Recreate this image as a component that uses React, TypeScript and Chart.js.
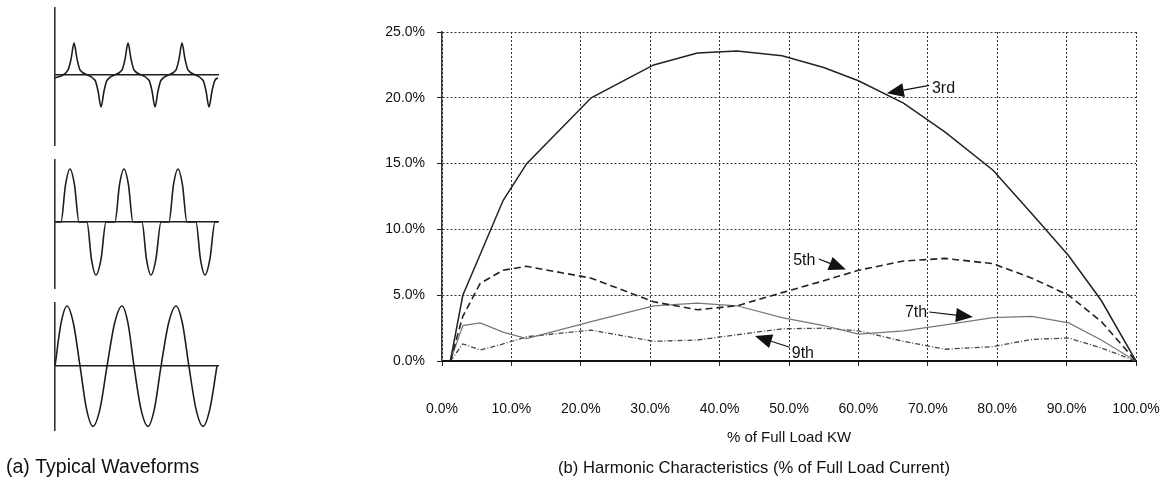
import React, { useEffect, useRef } from 'react';
import { Chart, registerables } from 'chart.js';

Chart.register(...registerables);

const FONT = "'Liberation Sans', Arial, Helvetica, sans-serif";

// ---------- Panel (b): harmonic characteristics ----------
const loadPct = [1.2, 3, 5.5, 8.8, 12.2, 21.5, 30.5, 36.8, 42.5, 49, 55, 60, 66.5, 72.5, 79.4, 85, 90.3, 95, 100];
const third = [0, 5.0, 8.1, 12.2, 15.0, 20.0, 22.5, 23.4, 23.55, 23.2, 22.3, 21.3, 19.6, 17.4, 14.5, 11.2, 8.0, 4.6, 0];
const fifth = [0, 3.4, 5.9, 6.9, 7.2, 6.3, 4.5, 3.9, 4.2, 5.2, 6.1, 6.9, 7.6, 7.8, 7.4, 6.3, 5.0, 3.0, 0];
const seventh = [0, 2.7, 2.9, 2.2, 1.7, 3.0, 4.2, 4.4, 4.2, 3.3, 2.7, 2.05, 2.3, 2.75, 3.3, 3.4, 2.9, 1.6, 0];
const ninth = [0, 1.3, 0.85, 1.3, 1.85, 2.35, 1.5, 1.6, 2.0, 2.45, 2.5, 2.3, 1.5, 0.9, 1.1, 1.65, 1.75, 1.0, 0];
const harmonicNames = ['3rd', '5th', '7th', '9th'];
const xTickLabels = ['0.0%', '10.0%', '20.0%', '30.0%', '40.0%', '50.0%', '60.0%', '70.0%', '80.0%', '90.0%', '100.0%'];
const yTickLabels = ['0.0%', '5.0%', '10.0%', '15.0%', '20.0%', '25.0%'];
const xAxisTitle = '% of Full Load KW';
const captionB = '(b) Harmonic Characteristics (% of Full Load Current)';
const captionA = '(a) Typical Waveforms';

// callout arrows (data coordinates): arrow tip, arrow tail, label anchor (left, middle)
const calloutTips = [[64.1, 20.35], [58.2, 6.95], [76.5, 3.35], [45.1, 1.9]];
const calloutTails = [[70.2, 20.95], [54.3, 7.75], [70.2, 3.73], [50.1, 1.05]];
const calloutLabels = [[70.6, 20.7], [50.6, 7.62], [66.7, 3.66], [50.4, 0.6]];

// ---------- Panel (a): typical waveforms (x in electrical degrees, y in relative amplitude) ----------
const wave1Deg = [0, 87, 107, 127, 147, 167, 267, 287, 307, 327, 347, 447, 467, 487, 507, 527, 627, 647, 667, 687, 707, 807, 827, 847, 867, 887, 987, 1007, 1027, 1047, 1067, 1087];
const wave1Val = [-0.09, 0.16, 0.5, 1, 0.5, 0.16, -0.16, -0.5, -1, -0.5, -0.16, 0.16, 0.5, 1, 0.5, 0.16, -0.16, -0.5, -1, -0.5, -0.16, 0.16, 0.5, 1, 0.5, 0.16, -0.16, -0.5, -1, -0.5, -0.16, -0.09];
const wave2Deg = [0, 40, 70, 100, 130, 160, 213, 243, 273, 307, 340, 400, 430, 460, 490, 520, 580, 610, 640, 673, 707, 760, 790, 820, 850, 880, 940, 970, 1000, 1033, 1067, 1087];
const wave2Val = [0, 0, 0.7, 1, 0.7, 0, 0, -0.7, -1, -0.7, 0, 0, 0.7, 1, 0.7, 0, 0, -0.7, -1, -0.7, 0, 0, 0.7, 1, 0.7, 0, 0, -0.7, -1, -0.7, 0, 0];
const wave3Deg = [0, 40, 80, 123, 167, 210, 253, 300, 347, 397, 447, 487, 527, 573, 620, 663, 707, 757, 807, 850, 893, 940, 987, 1033, 1080];
const wave3Val = [0, 0.71, 1, 0.71, 0, -0.71, -1, -0.71, 0, 0.71, 1, 0.71, 0, -0.71, -1, -0.71, 0, 0.71, 1, 0.71, 0, -0.71, -1, -0.71, 0];

const toPoints = (xs: number[], ys: number[]) => xs.map((x, i) => ({ x, y: ys[i] }));

const calloutPlugin = {
  id: 'callouts',
  afterDatasetsDraw(chart: any) {
    const { ctx, scales } = chart;
    const sx = scales.x;
    const sy = scales.y;
    ctx.save();
    harmonicNames.forEach((name, i) => {
      const tx = sx.getPixelForValue(calloutTips[i][0]);
      const ty = sy.getPixelForValue(calloutTips[i][1]);
      const ax = sx.getPixelForValue(calloutTails[i][0]);
      const ay = sy.getPixelForValue(calloutTails[i][1]);
      const ang = Math.atan2(ty - ay, tx - ax);
      const len = 17;
      const half = 7;
      const bx = tx - len * Math.cos(ang);
      const by = ty - len * Math.sin(ang);
      ctx.strokeStyle = '#111';
      ctx.fillStyle = '#111';
      ctx.lineWidth = 1.2;
      ctx.setLineDash([]);
      ctx.beginPath();
      ctx.moveTo(ax, ay);
      ctx.lineTo(bx, by);
      ctx.stroke();
      ctx.beginPath();
      ctx.moveTo(tx, ty);
      ctx.lineTo(bx + half * Math.sin(ang), by - half * Math.cos(ang));
      ctx.lineTo(bx - half * Math.sin(ang), by + half * Math.cos(ang));
      ctx.closePath();
      ctx.fill();
      ctx.font = `16px ${FONT}`;
      ctx.textAlign = 'left';
      ctx.textBaseline = 'middle';
      ctx.fillText(name, sx.getPixelForValue(calloutLabels[i][0]), sy.getPixelForValue(calloutLabels[i][1]));
    });
    ctx.restore();
  },
};

function makeWave(canvas: HTMLCanvasElement, xs: number[], ys: number[], yMin: number, yMax: number, padTop: number, padBottom: number, caption?: string) {
  return new Chart(canvas, {
    type: 'scatter',
    data: {
      datasets: [
        {
          data: toPoints(xs, ys),
          showLine: true,
          borderColor: '#1e1e1e',
          borderWidth: 1.6,
          pointRadius: 0,
          cubicInterpolationMode: 'monotone',
        } as any,
      ],
    },
    options: {
      animation: false,
      responsive: false,
      devicePixelRatio: 1,
      layout: { padding: { left: 6, right: 122, top: padTop, bottom: padBottom } },
      plugins: {
        legend: { display: false },
        tooltip: { enabled: false },
        title: caption
          ? {
              display: true,
              text: caption,
              position: 'bottom',
              align: 'start',
              color: '#111',
              font: { family: FONT, size: 19.5, weight: 'normal' },
              padding: { top: 25, bottom: 6 },
            }
          : { display: false },
      },
      scales: {
        x: {
          type: 'linear',
          min: 0,
          max: 1087,
          position: { y: 0 } as any,
          ticks: { display: false },
          grid: { display: false },
          border: { display: true, color: '#1e1e1e', width: 1.6 },
          afterFit: (s: any) => { s.height = 0; },
        },
        y: {
          type: 'linear',
          min: yMin,
          max: yMax,
          ticks: { display: false },
          grid: { display: false },
          border: { display: true, color: '#333', width: 1.6 },
          afterFit: (s: any) => { s.width = 49; },
        },
      },
    } as any,
  });
}

export default function App() {
  const w1 = useRef<HTMLCanvasElement>(null);
  const w2 = useRef<HTMLCanvasElement>(null);
  const w3 = useRef<HTMLCanvasElement>(null);
  const main = useRef<HTMLCanvasElement>(null);

  useEffect(() => {
    const charts: Chart[] = [];
    charts.push(makeWave(w1.current!, wave1Deg, wave1Val, -2.19, 2.1, 8, 5));
    charts.push(makeWave(w2.current!, wave2Deg, wave2Val, -1.245, 1.17, 10, 7));
    charts.push(makeWave(w3.current!, wave3Deg, wave3Val, -1.07, 1.05, 8, 0, captionA));

    const tickFont = { family: FONT, size: 14 };
    charts.push(
      new Chart(main.current!, {
        type: 'scatter',
        data: {
          datasets: [
            { label: harmonicNames[0], data: toPoints(loadPct, third), showLine: true, borderColor: '#222', borderWidth: 1.5, pointRadius: 0, tension: 0 },
            { label: harmonicNames[1], data: toPoints(loadPct, fifth), showLine: true, borderColor: '#222', borderWidth: 1.6, borderDash: [7, 4], pointRadius: 0, tension: 0 },
            { label: harmonicNames[2], data: toPoints(loadPct, seventh), showLine: true, borderColor: '#777', borderWidth: 1.2, pointRadius: 0, tension: 0 },
            { label: harmonicNames[3], data: toPoints(loadPct, ninth), showLine: true, borderColor: '#444', borderWidth: 1.3, borderDash: [5, 2, 1, 2], pointRadius: 0, tension: 0 },
          ],
        },
        options: {
          animation: false,
          responsive: false,
          devicePixelRatio: 1,
          layout: { padding: { left: 0, right: 32, top: 32, bottom: 0 } },
          plugins: {
            legend: { display: false },
            tooltip: { enabled: false },
            title: {
              display: true,
              text: captionB,
              position: 'bottom',
              color: '#111',
              font: { family: FONT, size: 16.6, weight: 'normal' },
              padding: { top: 10, bottom: 7 },
            },
          },
          scales: {
            x: {
              type: 'linear',
              min: 0,
              max: 100,
              ticks: {
                stepSize: 10,
                autoSkip: false,
                maxRotation: 0,
                padding: 35,
                color: '#111',
                font: tickFont,
                callback: (v: any) => xTickLabels[Math.round(Number(v) / 10)],
              },
              grid: { color: '#333', lineWidth: 1, tickLength: 5, tickColor: '#222', tickBorderDash: [] },
              border: { display: true, color: '#111', width: 2, dash: [2, 2] },
              title: { display: true, text: xAxisTitle, color: '#111', font: { family: FONT, size: 15 }, padding: { top: 0, bottom: 1 } },
              afterFit: (s: any) => {
                s.height = 87;
                s.paddingLeft = 0;
                s.paddingRight = 0;
              },
            },
            y: {
              type: 'linear',
              min: 0,
              max: 25,
              ticks: {
                stepSize: 5,
                padding: 12,
                color: '#111',
                font: tickFont,
                callback: (v: any) => yTickLabels[Math.round(Number(v) / 5)],
              },
              grid: { color: '#333', lineWidth: 1, tickLength: 5, tickColor: '#222', tickBorderDash: [] },
              border: { display: true, color: '#333', width: 1.5, dash: [2, 2] },
              afterFit: (s: any) => {
                s.width = 70;
                s.paddingTop = 0;
                s.paddingBottom = 0;
              },
            },
          },
        } as any,
        plugins: [calloutPlugin as any],
      })
    );
    return () => charts.forEach((c) => c.destroy());
  }, []);

  const abs = (left: number, top: number): React.CSSProperties => ({ position: 'absolute', left, top, display: 'block' });

  return (
    <div style={{ position: 'absolute', left: 0, top: 0, width: 1168, height: 485, background: '#fff', overflow: 'hidden' }}>
      <canvas ref={w1} width={340} height={150} style={abs(0, 0)} />
      <canvas ref={w2} width={340} height={145} style={abs(0, 150)} />
      <canvas ref={w3} width={340} height={190} style={abs(0, 295)} />
      <canvas ref={main} width={796} height={485} style={abs(372, 0)} />
    </div>
  );
}
